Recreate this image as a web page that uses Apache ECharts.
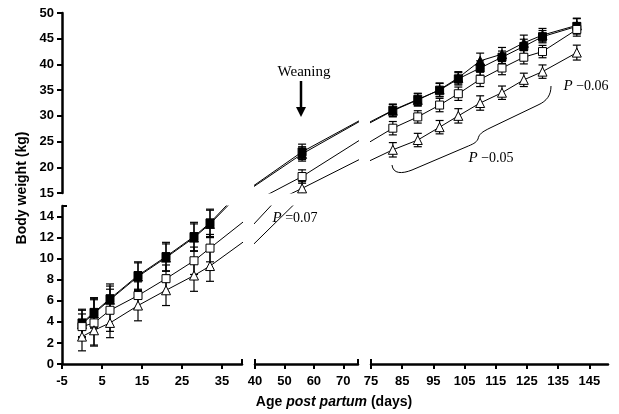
<!DOCTYPE html>
<html><head><meta charset="utf-8">
<script src="https://cdn.jsdelivr.net/npm/echarts@6/dist/echarts.min.js"></script>
<style>html,body{margin:0;padding:0;background:#fff}#c{width:619px;height:414px}</style>
</head><body><div id="c"></div>
<script>
// Age post partum (days)
const days = [0, 3, 7, 14, 21, 28, 32, 56, 82, 90, 97, 103, 110, 117, 124, 130, 141];
// Body weight (kg), four groups
const filledSquare    = [3.9, 4.9, 6.2, 8.4, 10.2, 12.1, 13.4, 23.0, 31.1, 33.2, 35.0, 37.2, 39.3, 41.4, 43.5, 45.4, 47.4];
const filledSquareErr = [1.3, 1.4, 1.4, 1.3, 1.35, 1.35, 1.3, 1.5, 1.2, 1.2, 1.3, 1.2, 1.4, 1.2, 1.4, 1.2, 1.5];
const filledTriangle    = [3.8, 4.8, 6.1, 8.3, 10.1, 12.0, 13.3, 22.6, 31.0, 33.1, 35.1, 37.4, 40.7, 42.0, 44.2, 45.7, 47.6];
const filledTriangleErr = [1.3, 1.4, 1.3, 1.3, 1.3, 1.3, 1.3, 1.4, 1.2, 1.2, 1.3, 1.2, 1.5, 1.3, 1.5, 1.3, 1.4];
const openSquare    = [3.55, 3.9, 5.1, 6.5, 8.1, 9.8, 11.0, 18.2, 27.6, 29.8, 32.1, 34.3, 37.1, 39.3, 41.4, 42.5, 46.8];
const openSquareErr = [1.2, 2.2, 2.0, 1.3, 1.3, 1.3, 1.3, 1.3, 1.3, 1.2, 1.3, 1.3, 1.4, 1.3, 1.3, 1.2, 1.3];
const openTriangle    = [2.6, 3.2, 3.9, 5.55, 7.0, 8.4, 9.3, 15.9, 23.4, 25.3, 27.8, 30.0, 32.5, 34.5, 37.0, 38.6, 42.3];
const openTriangleErr = [1.35, 1.4, 1.4, 1.45, 1.45, 1.5, 1.45, 1.3, 1.4, 1.3, 1.3, 1.4, 1.4, 1.3, 1.3, 1.3, 1.45];

const groups = [
  {name: 'filledTriangle', vals: filledTriangle, err: filledTriangleErr, symbol: 'triangle', size: 9, fill: '#000'},
  {name: 'filledSquare', vals: filledSquare, err: filledSquareErr, symbol: 'rect', size: 8, fill: '#000'},
  {name: 'openSquare', vals: openSquare, err: openSquareErr, symbol: 'rect', size: 8, fill: '#fff'},
  {name: 'openTriangle', vals: openTriangle, err: openTriangleErr, symbol: 'triangle', size: 9, fill: '#fff'}
];

const FONT = 'Liberation Sans, Arial, sans-serif';
const SERIF = 'Liberation Serif, Times New Roman, serif';

// grids: 0 LL, 1 UL, 2 LM, 3 UM, 4 LR, 5 UR
const grids = [
  {left: 62, top: 206, width: 180, height: 158},
  {left: 62, top: 13, width: 180, height: 180},
  {left: 255, top: 206, width: 103, height: 158},
  {left: 255, top: 13, width: 103, height: 180},
  {left: 371, top: 206, width: 237, height: 158},
  {left: 371, top: 13, width: 237, height: 180}
];
const xRanges = [[-5, 40], [-5, 40], [40, 75], [40, 75], [75, 151], [75, 151]];
const yRanges = [[0, 15, 2], [15, 50, 5], [0, 15, 2], [15, 50, 5], [0, 15, 2], [15, 50, 5]];

const axisLine = {show: true, onZero: false, lineStyle: {color: '#000', width: 2.5}};
const axisTick = {show: true, length: 5, lineStyle: {color: '#000', width: 2}};
const labelStyle = {color: '#000', fontSize: 13, fontWeight: 'bold', fontFamily: FONT, showMaxLabel: false};

const xAxis = grids.map((g, i) => ({
  type: 'value', gridIndex: i, min: xRanges[i][0], max: xRanges[i][1], interval: 10,
  show: i % 2 === 0,
  axisLine, axisTick, splitLine: {show: false},
  axisLabel: Object.assign({margin: 11}, labelStyle)
}));
const yAxis = grids.map((g, i) => ({
  type: 'value', gridIndex: i, min: yRanges[i][0], max: yRanges[i][1], interval: yRanges[i][2],
  show: i < 2,
  axisLine, axisTick, splitLine: {show: false},
  axisLabel: Object.assign({margin: 8}, labelStyle, {showMaxLabel: i === 1})
}));

function errRender(params, api) {
  const x = api.value(0), y = api.value(1), e = api.value(2);
  const top = api.coord([x, y + e]), bot = api.coord([x, y - e]);
  const hw = 4;
  const st = {stroke: '#000', lineWidth: 1.2};
  return {type: 'group', children: [
    {type: 'line', shape: {x1: top[0], y1: top[1], x2: bot[0], y2: bot[1]}, style: st},
    {type: 'line', shape: {x1: top[0] - hw, y1: top[1], x2: top[0] + hw, y2: top[1]}, style: st},
    {type: 'line', shape: {x1: bot[0] - hw, y1: bot[1], x2: bot[0] + hw, y2: bot[1]}, style: st}
  ]};
}

const panels = [0, 2, 3, 5];
const errPanels = [0, 3, 5];
const series = [];
panels.forEach(p => {
  if (errPanels.indexOf(p) >= 0) {
    groups.forEach(gr => {
      series.push({
        type: 'custom', xAxisIndex: p, yAxisIndex: p, clip: true, z: 2,
        renderItem: errRender, encode: {x: 0, y: 1},
        data: days.map((d, k) => [d, gr.vals[k], gr.err[k]])
      });
    });
  }
  groups.forEach(gr => {
    series.push({
      type: 'line', name: gr.name, xAxisIndex: p, yAxisIndex: p, clip: true, z: 3,
      symbol: gr.symbol, symbolSize: gr.size, showSymbol: true,
      lineStyle: {color: '#000', width: 1},
      itemStyle: {color: gr.fill, borderColor: '#000', borderWidth: 1},
      data: days.map((d, k) => [d, gr.vals[k]])
    });
  });
});

const pRich = {
  i: {fontFamily: SERIF, fontStyle: 'italic', fontSize: 15, fill: '#000', color: '#000'},
  n: {fontFamily: SERIF, fontSize: 14, fill: '#000', color: '#000'}
};
const cap = {stroke: '#000', lineWidth: 2};
const graphic = [
  {type: 'text', x: 304, y: 72, style: {text: 'Weaning', font: '15px ' + SERIF, fill: '#000', align: 'center', verticalAlign: 'middle', textAlign: 'center', textVerticalAlign: 'middle'}},
  {type: 'line', shape: {x1: 301, y1: 81, x2: 301, y2: 109}, style: {stroke: '#000', lineWidth: 2.5}},
  {type: 'polygon', shape: {points: [[296, 107], [306, 107], [301, 117]]}, style: {fill: '#000'}},
  {type: 'text', x: 295, y: 218, style: {text: '{i|P}{n| =0.07}', rich: pRich, align: 'center', verticalAlign: 'middle', textAlign: 'center', textVerticalAlign: 'middle'}},
  {type: 'text', x: 491, y: 158, style: {text: '{i|P}{n| \u22120.05}', rich: pRich, align: 'center', verticalAlign: 'middle', textAlign: 'center', textVerticalAlign: 'middle'}},
  {type: 'text', x: 586, y: 86, style: {text: '{i|P}{n| \u22120.06}', rich: pRich, align: 'center', verticalAlign: 'middle', textAlign: 'center', textVerticalAlign: 'middle'}},
  // brace
  {type: 'bezierCurve', shape: {x1: 392, y1: 165, cpx1: 393, cpy1: 174, cpx2: 402, cpy2: 174, x2: 412, y2: 170}, style: {stroke: '#000', lineWidth: 1, fill: null}},
  {type: 'line', shape: {x1: 412, y1: 170, x2: 466, y2: 147}, style: {stroke: '#000', lineWidth: 1}},
  {type: 'bezierCurve', shape: {x1: 466, y1: 147, cpx1: 473, cpy1: 144, cpx2: 476, cpy2: 143, x2: 478, y2: 139}, style: {stroke: '#000', lineWidth: 1, fill: null}},
  {type: 'bezierCurve', shape: {x1: 478, y1: 139, cpx1: 479, cpy1: 134, cpx2: 482, cpy2: 132, x2: 490, y2: 128}, style: {stroke: '#000', lineWidth: 1, fill: null}},
  {type: 'line', shape: {x1: 490, y1: 128, x2: 538, y2: 105}, style: {stroke: '#000', lineWidth: 1}},
  {type: 'bezierCurve', shape: {x1: 538, y1: 105, cpx1: 547, cpy1: 101, cpx2: 551, cpy2: 95, x2: 551, y2: 86}, style: {stroke: '#000', lineWidth: 1, fill: null}},
  // axis break end caps
  {type: 'line', shape: {x1: 242, y1: 359, x2: 242, y2: 364}, style: cap},
  {type: 'line', shape: {x1: 255, y1: 359, x2: 255, y2: 364}, style: cap},
  {type: 'line', shape: {x1: 358, y1: 359, x2: 358, y2: 364}, style: cap},
  {type: 'line', shape: {x1: 371, y1: 359, x2: 371, y2: 364}, style: cap},
  {type: 'line', shape: {x1: 62, y1: 206, x2: 67, y2: 206}, style: cap},
  // axis titles
  {type: 'text', x: 22, y: 188, rotation: Math.PI / 2, style: {text: 'Body weight (kg)', font: 'bold 14px ' + FONT, fill: '#000', align: 'center', verticalAlign: 'middle', textAlign: 'center', textVerticalAlign: 'middle'}},
  {type: 'text', x: 334, y: 402, style: {text: '{b|Age }{bi|post partum}{b| (days)}', rich: {
      b: {fontFamily: FONT, fontWeight: 'bold', fontSize: 14, fill: '#000', color: '#000'},
      bi: {fontFamily: FONT, fontWeight: 'bold', fontStyle: 'italic', fontSize: 14, fill: '#000', color: '#000'}
    }, align: 'center', verticalAlign: 'middle', textAlign: 'center', textVerticalAlign: 'middle'}}
];

const chart = echarts.init(document.getElementById('c'), null, {renderer: 'canvas'});
chart.setOption({
  backgroundColor: '#fff',
  animation: false,
  grid: grids,
  xAxis, yAxis, series, graphic
});
</script>
</body></html>
